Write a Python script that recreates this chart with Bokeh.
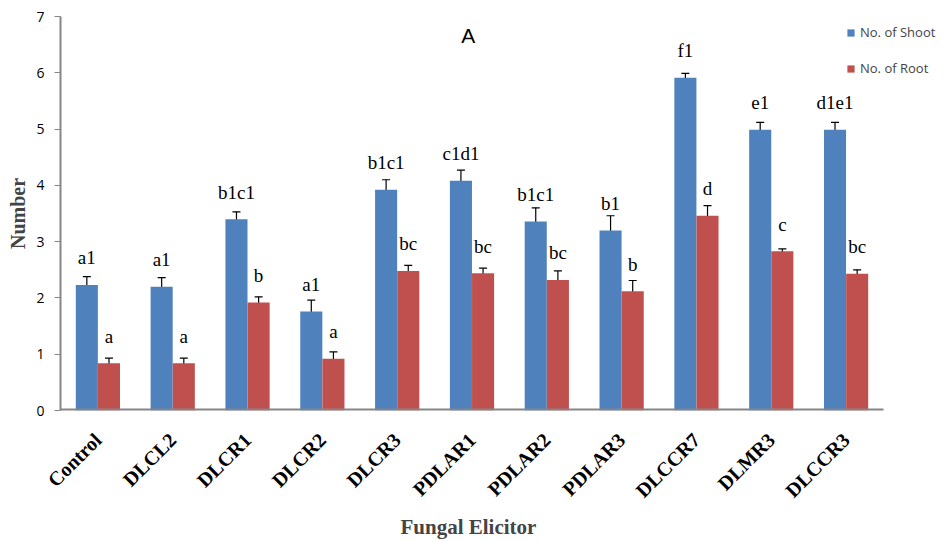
import math
from bokeh.plotting import figure
from bokeh.models import (ColumnDataSource, Range1d, Whisker, Legend, LegendItem, Title,
                          FixedTicker)
from bokeh.core.properties import value
from bokeh.embed import file_html
from bokeh.resources import INLINE

categories = ["Control", "DLCL2", "DLCR1", "DLCR2", "DLCR3", "PDLAR1", "PDLAR2",
              "PDLAR3", "DLCCR7", "DLMR3", "DLCCR3"]
shoot = [2.23, 2.20, 3.40, 1.76, 3.92, 4.08, 3.36, 3.20, 5.91, 4.99, 4.99]
shoot_err = [0.15, 0.16, 0.13, 0.20, 0.18, 0.19, 0.24, 0.26, 0.08, 0.13, 0.13]
root = [0.84, 0.84, 1.92, 0.92, 2.48, 2.44, 2.32, 2.12, 3.46, 2.83, 2.43]
root_err = [0.09, 0.09, 0.10, 0.12, 0.10, 0.09, 0.16, 0.19, 0.18, 0.04, 0.07]
shoot_letters = ["a1", "a1", "b1c1", "a1", "b1c1", "c1d1", "b1c1", "b1", "f1", "e1", "d1e1"]
root_letters = ["a", "a", "b", "a", "bc", "bc", "bc", "b", "d", "c", "bc"]
y_ticks = [0, 1, 2, 3, 4, 5, 6, 7]

BLUE = "#4F81BD"
RED = "#C0504D"
AXIS = "#868686"

n = len(categories)
centers = [i + 0.5 for i in range(n)]
off = 0.148
bw = 0.295

src = ColumnDataSource(dict(
    xs=[c - off for c in centers], xr=[c + off for c in centers],
    shoot=shoot, root=root,
    s_up=[v + e for v, e in zip(shoot, shoot_err)],
    s_lo=[v - e for v, e in zip(shoot, shoot_err)],
    r_up=[v + e for v, e in zip(root, root_err)],
    r_lo=[v - e for v, e in zip(root, root_err)],
    s_lab=shoot_letters, r_lab=root_letters,
))

# frame spans 60..942 px; categories occupy 60..883 px
x_end = n * (942 - 60) / (883 - 60)
p = figure(width=944, height=541, output_backend="svg", toolbar_location=None,
           x_range=Range1d(0, x_end), y_range=Range1d(0, 7),
           min_border_left=60, min_border_right=2, min_border_top=16, min_border_bottom=131)
p.outline_line_color = None
p.xgrid.grid_line_color = None
p.ygrid.grid_line_color = None
p.background_fill_color = "white"
p.border_fill_color = "white"

rs = p.vbar(x="xs", top="shoot", width=bw, source=src, fill_color=BLUE, line_color=None)
rr = p.vbar(x="xr", top="root", width=bw, source=src, fill_color=RED, line_color=None)

for base, up, lo in [("xs", "s_up", "s_lo"), ("xr", "r_up", "r_lo")]:
    w = Whisker(base=base, upper=up, lower=lo, source=src,
                line_color="black", line_width=1.2)
    for h in (w.upper_head, w.lower_head):
        h.size = 8
        h.line_color = "black"
        h.line_width = 1.2
    p.add_layout(w)

p.text(x="xs", y="shoot", text="s_lab", source=src,
       text_font=value("Liberation Serif"), text_font_size="19px", text_color="black",
       text_align="center", text_baseline="middle", y_offset=-27)
p.text(x="xr", y="root", text="r_lab", source=src,
       text_font=value("Liberation Serif"), text_font_size="19px", text_color="black",
       text_align="center", text_baseline="middle", y_offset=-27)

# x axis line only under the categories
p.segment(x0=[0], x1=[n], y0=[0], y1=[0], line_color=AXIS, line_width=4)

# axes
p.yaxis.ticker = y_ticks
p.yaxis.axis_line_color = AXIS
p.yaxis.axis_line_width = 2
p.yaxis.major_tick_line_color = AXIS
p.yaxis.major_tick_line_width = 1
p.yaxis.major_tick_out = 6
p.yaxis.major_tick_in = 0
p.yaxis.minor_tick_line_color = None
p.yaxis.major_label_text_font = "Open Sans"
p.yaxis.major_label_text_font_size = "14px"
p.yaxis.major_label_text_color = "black"
p.yaxis.major_label_standoff = 10
p.yaxis.axis_label = "Number"
p.yaxis.axis_label_text_font = "Liberation Serif"
p.yaxis.axis_label_text_font_style = "bold"
p.yaxis.axis_label_text_font_size = "20px"
p.yaxis.axis_label_standoff = 4

p.xaxis.ticker = FixedTicker(ticks=centers)
p.xaxis.major_label_overrides = {c: cat for c, cat in zip(centers, categories)}
p.xaxis.axis_line_color = None
p.xaxis.major_tick_line_color = None
p.xaxis.minor_tick_line_color = None
p.xaxis.major_label_orientation = math.pi / 4
p.xaxis.major_label_text_font = "Liberation Serif"
p.xaxis.major_label_text_font_style = "bold"
p.xaxis.major_label_text_font_size = "20px"
p.xaxis.major_label_text_color = "black"
p.xaxis.major_label_standoff = 20

p.add_layout(Title(text="Fungal Elicitor", align="left", offset=340,
                   text_font="Liberation Serif", text_font_style="bold",
                   text_font_size="21px", standoff=0), "below")

# title inside plot
p.text(x=[5.45], y=[6.66], text=["A"], text_font=value("Liberation Sans"),
       text_font_size="21px", text_align="center", text_baseline="middle",
       text_color="black")

legend = Legend(items=[LegendItem(label="No. of Shoot", renderers=[rs]),
                       LegendItem(label="No. of Root", renderers=[rr])],
                location=(786, 332))
legend.background_fill_alpha = 0
legend.border_line_color = None
legend.glyph_width = 9
legend.glyph_height = 9
legend.label_standoff = 5
legend.spacing = 16
legend.padding = 0
legend.margin = 0
legend.label_text_font = "Open Sans"
legend.label_text_font_size = "13px"
legend.label_height = 20
p.add_layout(legend, "center")

open("out.html", "w").write(file_html(p, INLINE))
